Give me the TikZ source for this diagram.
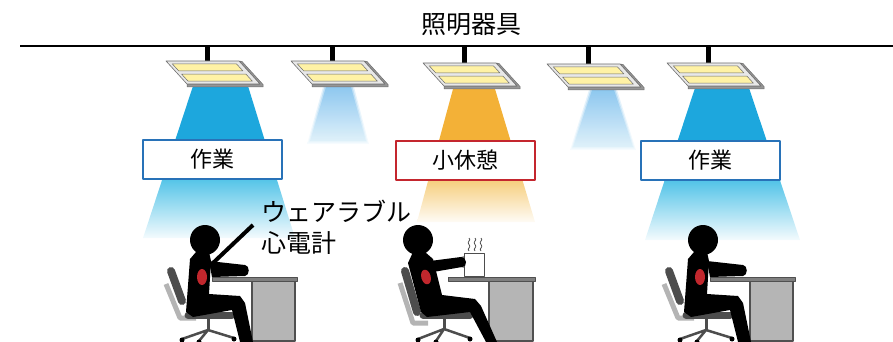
\documentclass[tikz,border=0pt]{standalone}
\usepackage{fontspec}
\newfontfamily\jp{Noto Sans CJK JP}
\usetikzlibrary{calc}

\definecolor{beamblue}{RGB}{29,167,221}
\definecolor{fadeblue}{RGB}{84,196,232}
\definecolor{beamorange}{RGB}{243,177,55}
\definecolor{fadeorange}{RGB}{246,206,125}
\definecolor{dimtop}{RGB}{135,196,238}
\definecolor{dimbot}{RGB}{222,241,250}
\definecolor{boxblue}{RGB}{40,114,184}
\definecolor{boxred}{RGB}{196,38,46}
\definecolor{heartred}{RGB}{193,39,45}
\definecolor{panelface}{RGB}{232,232,232}
\definecolor{paneledge}{RGB}{110,110,110}
\definecolor{panelside}{RGB}{150,150,150}
\definecolor{lampyellow}{RGB}{255,242,165}
\definecolor{chairdark}{RGB}{77,77,77}
\definecolor{chairlight}{RGB}{180,180,180}
\definecolor{deskgray}{RGB}{181,181,181}
\definecolor{deskedge}{RGB}{80,80,80}

\tikzset{
  lbl/.style={font=\jp\fontsize{25}{30}\selectfont, inner sep=0pt},
  tagbox/.style={draw=#1, line width=2pt, fill=white, minimum width=139pt,
    minimum height=39pt, inner sep=0pt, font=\jp\fontsize{22}{26}\selectfont},
  lamp/.pic={
    \filldraw[fill=panelside, draw=paneledge, line width=.5pt]
      (73,0) -- (76,0.5) -- (97,23.5) -- (97,26) -- (21,26) -- (21,23) -- (94,23) -- cycle;
    \filldraw[fill=panelface, draw=paneledge, line width=.6pt]
      (0,0) -- (73,0) -- (94,23) -- (21,23) -- cycle;
    \filldraw[fill=lampyellow, draw=paneledge, line width=.5pt]
      (6.2,2.8) -- (70.4,2.8) -- (76.9,9.9) -- (12.7,9.9) -- cycle;
    \filldraw[fill=lampyellow, draw=paneledge, line width=.5pt]
      (15.6,13.1) -- (79.9,13.1) -- (86.4,20.2) -- (22.1,20.2) -- cycle;
  }
}

% soft, dimmed light cone: top-left x, top-right x, top y, bottom-left x, bottom-right x, bottom y
\newcommand\dimbeam[6]{%
  \foreach \e/\o in {3/0.25,1.5/0.45,0/0.85}{%
    \shade[top color=dimtop, bottom color=dimbot, opacity=\o]
      (#1-\e,#3) -- (#2+\e,#3) -- (#5+\e,#6+\e) -- (#4-\e,#6+\e) -- cycle;
  }}

% one steam squiggle above the mug
\newcommand\steamline[1]{%
  \draw[chairdark, line width=.8pt]
    (#1,251) .. controls (#1-3,249) and (#1+3,247) .. (#1,244.5)
             .. controls (#1-3,242) and (#1+3,240) .. (#1,238);}

% seated worker at a desk
\newcommand\drawworker{%
  \filldraw[fill=deskgray, draw=deskedge, line width=1.2pt] (252,281) rectangle (295,341);
  \filldraw[fill=deskgray!70!black, draw=deskedge, line width=.6pt] (212,277) rectangle (297,281);
  \draw[chairlight, line width=5pt] (166,284) -- (180,318) -- (196,318);
  \draw[chairdark, line width=8pt, line cap=round] (171,271) -- (182,301);
  \draw[chairdark, line width=2.5pt] (208,330) -- (182,339) (208,330) -- (234,338) (208,330) -- (199,341);
  \draw[chairdark, line width=3pt] (208,317) -- (208,331);
  \draw[chairdark, line width=7pt, line cap=round] (188,315) -- (232,315);
  \fill (182,340) circle (2.5pt) (234,339) circle (2.5pt) (199,342) circle (2.5pt);
  \fill (205,240) circle (15pt);
  \fill (196,252) -- (209,252) -- (211,261) -- (209,294) -- (240,296) -- (245,303)
        -- (253,342) -- (240,342) -- (232,310) -- (193,317) -- (186,312) -- (190,259) -- cycle;
  \fill (209,261) -- (245,265) .. controls (250,265.5) and (250,275.5) .. (245,276) -- (212,277) -- cycle;
  \fill[heartred] (202,277) ellipse [x radius=5pt, y radius=8pt];
}

\begin{document}
\begin{tikzpicture}[x=1pt, y=-1pt, line join=round]
\useasboundingbox (0,0) rectangle (893,342);

% ---- light cones ----
\fill[beamblue] (193,86) -- (248,86) -- (276.7,179) -- (162.4,179) -- cycle;
\shade[top color=fadeblue, bottom color=beamblue!5!white]
  (162.4,179) -- (276.7,179) -- (295,238) -- (143,238) -- cycle;

\fill[beamorange] (453,89) -- (495,89) -- (522.4,180) -- (428.3,180) -- cycle;
\shade[top color=fadeorange, bottom color=beamorange!5!white]
  (428.3,180) -- (522.4,180) -- (535,222) -- (417,222) -- cycle;

\fill[beamblue] (695,88) -- (749,88) -- (780.2,181) -- (664.4,181) -- cycle;
\shade[top color=fadeblue, bottom color=beamblue!5!white]
  (664.4,181) -- (780.2,181) -- (800,240) -- (645,240) -- cycle;

\dimbeam{326}{351}{87}{310}{366}{141}
\dimbeam{592}{614}{90}{573}{633}{147}

% ---- ceiling and fixtures ----
\draw[line width=2pt] (20,46.5) -- (893,46.5);
\foreach \sx/\sy in {207/61, 332/61, 464/63, 588/64, 708/63}
  \fill (\sx-2.5,47) rectangle (\sx+2.5,\sy+1);
\pic at (166,61) {lamp};
\pic at (291,61) {lamp};
\pic at (423,63) {lamp};
\pic at (547,64) {lamp};
\pic at (667,63) {lamp};

\node[lbl] (title) at (471,25) {照明器具};

% ---- mode labels ----
\node[tagbox=boxblue] (work1) at (212.5,159.5) {作業};
\node[tagbox=boxred]  (rest)  at (465,160)     {小休憩};
\node[tagbox=boxblue] (work2) at (710.5,160)   {作業};

% ---- workers ----
\begin{scope}
  \drawworker
\end{scope}
\begin{scope}[shift={(498,0)}]
  \drawworker
\end{scope}

% ---- resting person with a hot drink ----
\filldraw[fill=deskgray, draw=deskedge, line width=1.2pt] (489,281) rectangle (533,341);
\filldraw[fill=deskgray!70!black, draw=deskedge, line width=.6pt] (448,277) rectangle (535,281);
\draw[chairlight, line width=5pt] (400,283) -- (413,323) -- (428,323);
\draw[chairdark, line width=8pt, line cap=round] (405,271) -- (417,312);
\draw[chairdark, line width=2.5pt] (444,329) -- (418,339) (444,329) -- (470,338) (444,329) -- (436,341);
\draw[chairdark, line width=3pt] (444,317) -- (444,330);
\draw[chairdark, line width=7pt, line cap=round] (423,315) -- (470,315);
\fill (418,340) circle (2.5pt) (470,339) circle (2.5pt) (436,342) circle (2.5pt);

\draw[chairdark, line width=1.2pt] (464,257) -- (459,258) -- (459,266) -- (464,267);
\filldraw[fill=white, draw=chairdark, line width=1pt] (464,253) rectangle (484,276);
\steamline{469}\steamline{475}\steamline{481}

\fill (418,240) circle (15pt);
\fill (413,252) -- (425,252) -- (433,259) -- (442,295) -- (475,299) -- (481,306)
      -- (497,342) -- (486,342) -- (470,312) -- (427,317) -- (421,312) -- (408,263) -- cycle;
\fill (430,261) -- (461,257) .. controls (467,257) and (468,267) .. (462,267) -- (433,272) -- cycle;
\fill[heartred, rotate around={15:(426,277)}] (426,277) ellipse [x radius=4.7pt, y radius=7.5pt];

% ---- wearable ECG callout ----
\node[lbl, anchor=west] (ecgA) at (261,211) {ウェアラブル};
\node[lbl, anchor=west] (ecgB) at (261,243) {心電計};
\coordinate (ecgSensor) at (213,263);
\coordinate (ecgTip) at (253,225);
\draw[line width=4pt] (ecgSensor) -- (ecgTip);
\end{tikzpicture}
\end{document}
